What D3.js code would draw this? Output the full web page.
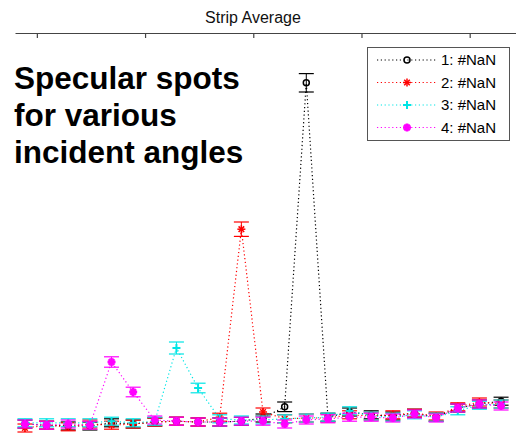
<!DOCTYPE html>
<html>
<head>
<meta charset="utf-8">
<script src="https://cdn.jsdelivr.net/npm/d3@7"></script>
<style>
  html, body { margin: 0; padding: 0; background: #fff; }
  svg { display: block; }
</style>
</head>
<body>
<svg id="chart" width="516" height="435"></svg>
<script>
// Strip positions (index along the strip)
const positions = d3.range(23);
const xTickValues = [0.55, 5.55, 10.55, 15.55, 20.55];

// Average intensity per strip position, one array per incident angle
const series1 = [1.5, 1.2, 1.0, 1.0, 1.8, 1.5, 2.0, 2.2, 2.0, 2.0, 2.2, 3.0, 5.8, 86.8, 3.2, 4.5, 3.8, 3.5, 4.2, 3.2, 5.5, 6.5, 7.2];
const series2 = [0.5, 1.2, 0.8, 1.5, 1.2, 1.5, 2.0, 2.2, 2.0, 3.2, 50.2, 4.5, 2.8, 3.0, 3.0, 3.8, 3.5, 3.8, 4.2, 3.5, 5.8, 7.0, 6.5];
const series3 = [1.8, 1.8, 1.8, 1.8, 2.2, 1.8, 2.2, 20.5, 10.5, 2.8, 2.5, 2.5, 2.8, 3.0, 3.2, 4.8, 3.5, 3.2, 3.8, 3.2, 4.8, 6.2, 6.5];
const series4 = [1.5, 1.2, 1.5, 1.2, 17.0, 9.5, 2.5, 2.2, 2.0, 2.0, 2.2, 2.2, 1.5, 2.5, 2.8, 3.2, 3.2, 3.0, 4.0, 3.0, 5.5, 6.5, 6.0];

// Error (half-length of each error bar)
const err1 = [1.0, 1.0, 1.0, 1.0, 1.0, 1.0, 1.0, 1.0, 1.0, 1.0, 1.0, 1.0, 1.2, 2.3, 1.0, 1.0, 1.0, 1.0, 1.0, 1.0, 1.0, 1.0, 1.0];
const err2 = [1.0, 1.0, 1.0, 1.0, 1.0, 1.0, 1.0, 1.0, 1.0, 1.0, 1.8, 1.0, 1.0, 1.0, 1.0, 1.0, 1.0, 1.0, 1.0, 1.0, 1.0, 1.0, 1.0];
const err3 = [1.0, 1.0, 1.0, 1.0, 1.0, 1.0, 1.0, 1.5, 1.2, 1.0, 1.0, 1.0, 1.0, 1.0, 1.0, 1.0, 1.0, 1.0, 1.0, 1.0, 1.0, 1.0, 1.0];
const err4 = [1.0, 1.0, 1.0, 1.0, 1.3, 1.2, 1.0, 1.0, 1.0, 1.0, 1.0, 1.0, 1.0, 1.0, 1.0, 1.0, 1.0, 1.0, 1.0, 1.0, 1.0, 1.0, 1.0];

const seriesNames = ["1: #NaN", "2: #NaN", "3: #NaN", "4: #NaN"];
const seriesColors = ["#000000", "#ff0000", "#00e5e5", "#ff00ff"];
const seriesMarkers = ["circle", "asterisk", "plus", "blob"];

const titleText = "Strip Average";
const noteLines = ["Specular spots", "for various", "incident angles"];

const allSeries = [series1, series2, series3, series4];
const allErrors = [err1, err2, err3, err4];

const svg = d3.select("#chart");
const font = "'Liberation Sans', Arial, Helvetica, sans-serif";

const x = d3.scaleLinear().domain([-0.46, 22.69]).range([15, 516]);
const y = d3.scaleLinear().domain([0, 100]).range([430, 30]);

// Title
svg.append("text")
  .attr("x", 253).attr("y", 23)
  .attr("text-anchor", "middle")
  .attr("font-family", font)
  .attr("font-size", 16)
  .attr("fill", "#111")
  .text(titleText);

// Top axis line with inward ticks
const axis = d3.axisBottom(x)
  .tickValues(xTickValues)
  .tickSize(5)
  .tickSizeOuter(0)
  .tickFormat("");
const axisG = svg.append("g").attr("transform", "translate(0,33)").call(axis);
axisG.select(".domain").attr("stroke", "#444").attr("stroke-width", 1);
axisG.selectAll(".tick line").attr("stroke", "#444").attr("stroke-width", 1.2);

// Annotation
const note = svg.append("text")
  .attr("font-family", font)
  .attr("font-size", 31.5)
  .attr("font-weight", "bold")
  .attr("fill", "#000");
noteLines.forEach((t, i) => {
  note.append("tspan").attr("x", 14).attr("y", 89 + i * 37).text(t);
});

// Marker drawing
function drawMarker(g, kind, color) {
  if (kind === "circle") {
    g.append("circle").attr("r", 3).attr("fill", "none")
      .attr("stroke", color).attr("stroke-width", 1.5);
  } else if (kind === "asterisk" || kind === "blob") {
    const s = 4;
    const w = kind === "blob" ? 2.6 : 1.5;
    [[-s, 0, s, 0], [0, -s, 0, s], [-s * 0.7, -s * 0.7, s * 0.7, s * 0.7], [-s * 0.7, s * 0.7, s * 0.7, -s * 0.7]]
      .forEach(([a, b, c, d]) => g.append("line")
        .attr("x1", a).attr("y1", b).attr("x2", c).attr("y2", d)
        .attr("stroke", color).attr("stroke-width", w));
  } else {
    const s = 4;
    g.append("line").attr("x1", -s).attr("x2", s).attr("y1", 0).attr("y2", 0)
      .attr("stroke", color).attr("stroke-width", 2);
    g.append("line").attr("x1", 0).attr("x2", 0).attr("y1", -s).attr("y2", s)
      .attr("stroke", color).attr("stroke-width", 2);
  }
}

const line = d3.line().x((d, i) => x(positions[i])).y(d => y(d));
const capHalf = 7.5;

allSeries.forEach((vals, si) => {
  const color = seriesColors[si];
  const g = svg.append("g");
  g.append("path")
    .datum(vals)
    .attr("d", line)
    .attr("fill", "none")
    .attr("stroke", color)
    .attr("stroke-width", 1.2)
    .attr("stroke-dasharray", "1.2,2.6");

  const errs = allErrors[si];
  const pts = g.selectAll("g.pt").data(vals).join("g").attr("class", "pt");
  pts.each(function (d, i) {
    const p = d3.select(this);
    const cx = x(positions[i]);
    const y0 = y(d - errs[i]);
    const y1 = y(d + errs[i]);
    p.append("line").attr("x1", cx).attr("x2", cx).attr("y1", y0).attr("y2", y1)
      .attr("stroke", color).attr("stroke-width", 1);
    [y0, y1].forEach(yy => p.append("line")
      .attr("x1", cx - capHalf).attr("x2", cx + capHalf)
      .attr("y1", yy).attr("y2", yy)
      .attr("stroke", color).attr("stroke-width", 1.2));
    const m = p.append("g").attr("transform", `translate(${cx},${y(d)})`);
    drawMarker(m, seriesMarkers[si], color);
  });
});

// Legend
const legend = svg.append("g");
legend.append("rect")
  .attr("x", 367.5).attr("y", 47.5).attr("width", 142).attr("height", 93)
  .attr("fill", "#fff").attr("stroke", "#555").attr("stroke-width", 1);
seriesNames.forEach((name, i) => {
  const ly = 60 + i * 22.5;
  const color = seriesColors[i];
  legend.append("line")
    .attr("x1", 377).attr("x2", 437).attr("y1", ly).attr("y2", ly)
    .attr("stroke", color).attr("stroke-width", 1.2)
    .attr("stroke-dasharray", "1.2,2.6");
  const m = legend.append("g").attr("transform", `translate(407,${ly})`);
  drawMarker(m, seriesMarkers[i], color);
  legend.append("text")
    .attr("x", 441).attr("y", ly + 5)
    .attr("font-family", font).attr("font-size", 15)
    .attr("fill", "#000")
    .text(name);
});
</script>
</body>
</html>
